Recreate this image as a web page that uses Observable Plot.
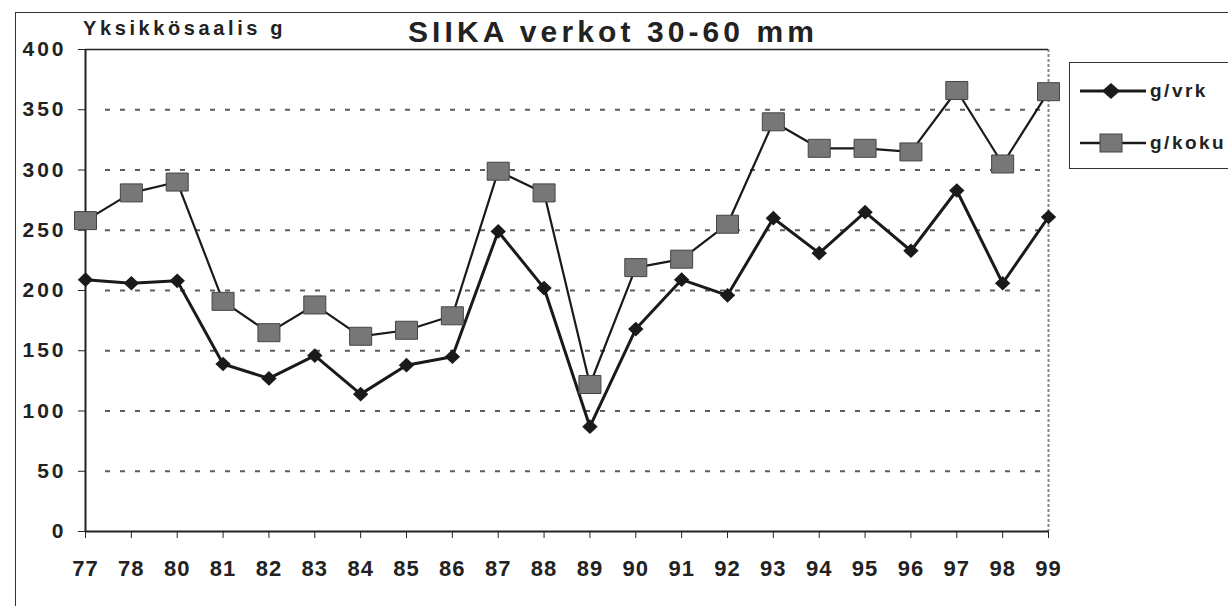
<!DOCTYPE html>
<html>
<head>
<meta charset="utf-8">
<script src="https://cdn.jsdelivr.net/npm/d3@7"></script>
<script src="https://cdn.jsdelivr.net/npm/@observablehq/plot@0.6"></script>
<style>
  html, body { margin: 0; padding: 0; background: #fff; }
  #wrap { position: relative; width: 1228px; height: 606px; overflow: hidden; font-family: "Liberation Sans", Arial, sans-serif; font-weight: bold; color: #222; }
  #chart { position: absolute; left: 0; top: 0; }
  #outer { position: absolute; left: 15px; top: 12px; width: 1300px; height: 700px; border-left: 1.5px solid #333; border-top: 1.5px solid #333; }
  #ylabel { position: absolute; left: 83px; top: 17px; font-size: 20px; letter-spacing: 3.6px; }
  #title { position: absolute; left: 408px; top: 15px; font-size: 30px; letter-spacing: 4.1px; }
  #legend { position: absolute; left: 1069px; top: 62px; width: 200px; height: 105px; border: 1.5px solid #333; }
  .lg { position: absolute; left: 0; width: 200px; height: 30px; }
  .lg svg { position: absolute; left: 8px; top: 0; }
  .lg span { position: absolute; left: 80px; top: 4px; font-size: 19px; letter-spacing: 2.5px; }
</style>
</head>
<body>
<div id="wrap">
  <div id="outer"></div>
  <div id="chart"></div>
  <div id="ylabel">Yksikkösaalis g</div>
  <div id="title">SIIKA verkot 30-60 mm</div>
  <div id="legend">
    <div class="lg" style="top:13px">
      <svg width="70" height="30"><line x1="2" y1="15" x2="68" y2="15" stroke="#1a1a1a" stroke-width="3"/><path d="M33,7 L42,15 L33,23 L24,15 Z" fill="#1a1a1a"/></svg>
      <span>g/vrk</span>
    </div>
    <div class="lg" style="top:65px">
      <svg width="70" height="30"><line x1="2" y1="15" x2="68" y2="15" stroke="#1a1a1a" stroke-width="2.5"/><rect x="22" y="6" width="22" height="18" fill="#777" stroke="#444" stroke-width="1"/></svg>
      <span>g/koku</span>
    </div>
  </div>
</div>
<script>
const years = ["77","78","80","81","82","83","84","85","86","87","88","89","90","91","92","93","94","95","96","97","98","99"];
const gVrk  = [209, 206, 208, 139, 127, 146, 114, 138, 145, 249, 202, 87, 168, 209, 196, 260, 231, 265, 233, 283, 206, 261];
const gKoku = [258, 281, 290, 191, 165, 188, 162, 167, 179, 299, 281, 122, 219, 226, 255, 340, 318, 318, 315, 366, 305, 365];
const yTicks = [0, 50, 100, 150, 200, 250, 300, 350, 400];
const gridValues = [50, 100, 150, 200, 250, 300, 350];

const vrkData = years.map((y, i) => ({year: y, value: gVrk[i]}));
const kokuData = years.map((y, i) => ({year: y, value: gKoku[i]}));

const diamondSym = {
  draw(ctx, size) {
    const r = Math.sqrt(size / Math.PI);
    ctx.moveTo(0, -r * 1.05);
    ctx.lineTo(r * 1.1, 0);
    ctx.lineTo(0, r * 1.05);
    ctx.lineTo(-r * 1.1, 0);
    ctx.closePath();
  }
};
const rectSym = {
  draw(ctx, size) {
    const r = Math.sqrt(size / Math.PI);
    const w = r * 1.1, h = r * 0.9;
    ctx.moveTo(-w, -h);
    ctx.lineTo(w, -h);
    ctx.lineTo(w, h);
    ctx.lineTo(-w, h);
    ctx.closePath();
  }
};

const chart = Plot.plot({
  width: 1228,
  height: 606,
  marginLeft: 85,
  marginRight: 180,
  marginTop: 49,
  marginBottom: 75,
  style: {fontFamily: "'Liberation Sans', Arial, sans-serif", fontWeight: "bold", color: "#222", background: "transparent"},
  x: {type: "point", domain: years, padding: 0, round: false, label: null},
  y: {domain: [0, 400], label: null},
  marks: [
    Plot.ruleY(gridValues, {insetLeft: 20, stroke: "#333", strokeWidth: 1.8, strokeDasharray: "5,10", strokeOpacity: 0.8}),
    Plot.ruleX([years[years.length - 1]], {stroke: "#888", strokeWidth: 2, strokeDasharray: "3,2"}),
    Plot.ruleY([400], {stroke: "#222", strokeWidth: 1.5}),
    Plot.ruleY([0], {stroke: "#222", strokeWidth: 2}),
    Plot.ruleX([years[0]], {stroke: "#222", strokeWidth: 2}),
    Plot.axisY({ticks: yTicks, tickSize: 7, tickPadding: 12, fontSize: 21, fontWeight: "bold", label: null, stroke: "#222"}),
    Plot.axisX({tickSize: 7, tickPadding: 22, fontSize: 22, fontWeight: "bold", label: null, stroke: "#222"}),
    Plot.line(kokuData, {x: "year", y: "value", stroke: "#1a1a1a", strokeWidth: 2.2}),
    Plot.line(vrkData, {x: "year", y: "value", stroke: "#1a1a1a", strokeWidth: 3}),
    Plot.dot(vrkData, {x: "year", y: "value", symbol: diamondSym, r: 7, fill: "#1a1a1a", stroke: "none"}),
    Plot.dot(kokuData, {x: "year", y: "value", symbol: rectSym, r: 10, fill: "#777", stroke: "#444", strokeWidth: 1})
  ]
});
chart.querySelectorAll('g[aria-label*="y-axis"] text').forEach(t => { t.style.fontSize = "21px"; t.style.letterSpacing = "3px"; });
chart.querySelectorAll('g[aria-label*="x-axis"] text').forEach(t => { t.style.fontSize = "22px"; t.style.letterSpacing = "1px"; });
document.getElementById("chart").appendChild(chart);
</script>
</body>
</html>
